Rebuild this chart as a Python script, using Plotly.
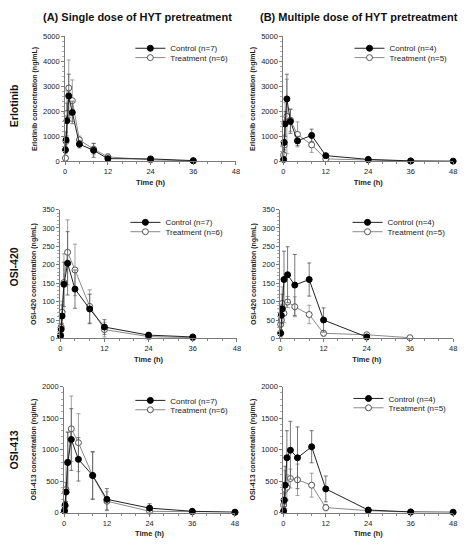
import plotly.graph_objects as go
from plotly.subplots import make_subplots

# sampling times (h)
times = [0.083, 0.25, 0.5, 1, 2, 4, 8, 12, 24, 36, 48]

# (A) single dose - Erlotinib
a_erl_ctrl = [460, 860, 1630, 2620, 1960, 690, 440, 110, 100, 30]
a_erl_ctrl_sd = [150, 300, 700, 870, 450, 150, 280, 60, 50, 20]
a_erl_trt = [130, 800, 1920, 2940, 2430, 860, 490, 180, 60, 20]
a_erl_trt_sd = [80, 400, 900, 1120, 830, 150, 230, 120, 60, 10]

# (B) multiple dose - Erlotinib
b_erl_ctrl = [80, 760, 1500, 2500, 1600, 820, 1040, 230, 80, 20, 10]
b_erl_ctrl_sd = [40, 300, 500, 990, 480, 180, 250, 80, 40, 10, 5]
b_erl_trt = [260, 650, 1550, 1800, 1650, 1080, 660, 100, 60, 10]
b_erl_trt_sd = [150, 400, 800, 1490, 450, 500, 300, 60, 30, 5]

# (A) OSI-420
a_420_ctrl = [7, 25, 61, 147, 204, 134, 80, 31, 9, 4]
a_420_ctrl_sd = [4, 15, 30, 60, 86, 52, 40, 20, 6, 3]
a_420_trt = [10, 31, 71, 152, 234, 186, 87, 24, 5, 2]
a_420_trt_sd = [5, 20, 30, 78, 88, 70, 45, 20, 4, 2]

# (B) OSI-420
b_420_ctrl = [14, 63, 80, 160, 173, 145, 160, 50, 4]
b_420_ctrl_sd = [10, 30, 40, 77, 76, 83, 45, 33, 3]
b_420_trt = [38, 50, 95, 68, 99, 86, 65, 14, 10, 2]
b_420_trt_sd = [15, 30, 45, 25, 15, 27, 25, 8, 5, 1]

# (A) OSI-413
a_413_ctrl = [25, 120, 325, 795, 1160, 845, 590, 210, 70, 20, 5]
a_413_ctrl_sd = [15, 60, 150, 480, 490, 345, 380, 170, 70, 15, 3]
a_413_trt = [30, 100, 365, 800, 1330, 1110, 585, 180, 20, 10, 5]
a_413_trt_sd = [20, 60, 400, 480, 520, 460, 370, 150, 20, 8, 3]

# (B) OSI-413
b_413_ctrl = [25, 195, 435, 870, 990, 870, 1045, 375, 40, 10, 5]
b_413_ctrl_sd = [15, 100, 300, 430, 460, 490, 255, 205, 30, 5, 3]
b_413_trt = [120, 200, 365, 400, 540, 520, 435, 78, 30, 5]
b_413_trt_sd = [60, 100, 300, 200, 150, 250, 190, 50, 20, 3]

col_titles = ["(A) Single dose of HYT pretreatment", "(B) Multiple dose of HYT pretreatment"]
row_labels = ["Erlotinib", "OSI-420", "OSI-413"]
n_ctrl = [7, 4]
n_trt = [6, 5]
y_max = [5000, 350, 2000]
y_dtick = [1000, 50, 500]

panels = [
    [(a_erl_ctrl, a_erl_ctrl_sd, a_erl_trt, a_erl_trt_sd), (b_erl_ctrl, b_erl_ctrl_sd, b_erl_trt, b_erl_trt_sd)],
    [(a_420_ctrl, a_420_ctrl_sd, a_420_trt, a_420_trt_sd), (b_420_ctrl, b_420_ctrl_sd, b_420_trt, b_420_trt_sd)],
    [(a_413_ctrl, a_413_ctrl_sd, a_413_trt, a_413_trt_sd), (b_413_ctrl, b_413_ctrl_sd, b_413_trt, b_413_trt_sd)],
]

W, H = 468, 550
FONT = "Arial, Liberation Sans, sans-serif"

# pixel boxes of each plot area: (x0, x1) per column/row, (ytop, ybottom) per row
x_px = [[(64, 237), (285, 457)], [(59, 238), (282, 457)], [(63, 236), (285, 457)]]
y_px = [(33, 160), (209, 340), (389, 517)]
# legend text start x and first item y (px)
leg_px = [[(168, 45), (390, 45)], [(163, 222), (388, 222)], [(168, 403), (389, 401)]]


def fx(p):
    return p / W


def fy(p):
    return 1 - p / H


fig = make_subplots(rows=3, cols=2)

leg_n = 0
legends = {}
for r in range(3):
    for c in range(2):
        ctrl, ctrl_sd, trt, trt_sd = panels[r][c]
        lx, ly = leg_px[r][c]
        names = [f"Treatment (n={n_trt[c]})", f"Control (n={n_ctrl[c]})"]
        # treatment drawn first, control on top
        for k, (vals, sd) in enumerate([(trt, trt_sd), (ctrl, ctrl_sd)]):
            leg_n += 1
            lname = "legend" if leg_n == 1 else f"legend{leg_n}"
            is_ctrl = k == 1
            fig.add_trace(go.Scatter(
                x=times[:len(vals)], y=vals,
                mode="lines+markers",
                name=names[k],
                legend=lname,
                line=dict(color="#222222" if is_ctrl else "#8a8a8a", width=1),
                marker=dict(symbol="circle", size=6,
                            color="#000000" if is_ctrl else "#ffffff",
                            line=dict(color="#000000" if is_ctrl else "#555555", width=1)),
                error_y=dict(type="data", array=sd, visible=True,
                             color="#555555" if is_ctrl else "#8a8a8a",
                             thickness=0.8, width=2),
                cliponaxis=False,
            ), row=r + 1, col=c + 1)
            item_y = ly if is_ctrl else ly + 9.5
            legends[lname] = dict(
                x=fx(lx - 38), y=fy(item_y), xanchor="left", yanchor="middle",
                bgcolor="rgba(0,0,0,0)", borderwidth=0,
                font=dict(family=FONT, size=8, color="#222222"),
                itemwidth=30,
            )

        x0, x1 = x_px[r][c]
        yt, yb = y_px[r]
        fig.update_xaxes(
            domain=[fx(x0), fx(x1)], range=[0, 48], tickvals=[0, 12, 24, 36, 48],
            showgrid=False, zeroline=False, showline=True, linecolor="#7a7a7a", linewidth=1,
            ticks="outside", ticklen=3, tickcolor="#7a7a7a",
            minor=dict(dtick=4, ticks="outside", ticklen=2, tickcolor="#8a8a8a"),
            tickfont=dict(family=FONT, size=7.5, color="#222222"),
            title=dict(text="<b>Time (h)</b>", font=dict(family=FONT, size=7.5, color="#222222"), standoff=4),
            row=r + 1, col=c + 1)
        fig.update_yaxes(
            domain=[fy(yb), fy(yt)], range=[0, y_max[r]], dtick=y_dtick[r],
            showgrid=False, zeroline=False, showline=True, linecolor="#7a7a7a", linewidth=1,
            ticks="outside", ticklen=3, tickcolor="#7a7a7a",
            minor=dict(dtick=y_dtick[r] / 5, ticks="outside", ticklen=2, tickcolor="#aaaaaa"),
            tickfont=dict(family=FONT, size=7.5, color="#222222"),
            title=dict(text=f"<b>{row_labels[r]} concentration (ng/mL)</b>",
                       font=dict(family=FONT, size=7, color="#222222"), standoff=4),
            row=r + 1, col=c + 1)

annotations = []
for c, (t, cx) in enumerate(zip(col_titles, [137, 362])):
    annotations.append(dict(text=f"<b>{t}</b>", x=fx(cx), y=fy(13), xref="paper", yref="paper",
                            showarrow=False, xanchor="center", yanchor="middle",
                            font=dict(family=FONT, size=11, color="#111111")))
for r, cy in enumerate([103, 267, 453]):
    annotations.append(dict(text=f"<b>{row_labels[r]}</b>", x=fx(12), y=fy(cy), xref="paper", yref="paper",
                            showarrow=False, xanchor="center", yanchor="middle", textangle=-90,
                            font=dict(family=FONT, size=10.5, color="#111111")))

fig.update_layout(
    width=W, height=H,
    margin=dict(l=0, r=0, t=0, b=0),
    paper_bgcolor="white", plot_bgcolor="white",
    annotations=annotations,
    showlegend=True,
    **legends,
)

fig.write_html("out.html", config={"displayModeBar": False},
               post_script="document.body.style.margin='0px';")
